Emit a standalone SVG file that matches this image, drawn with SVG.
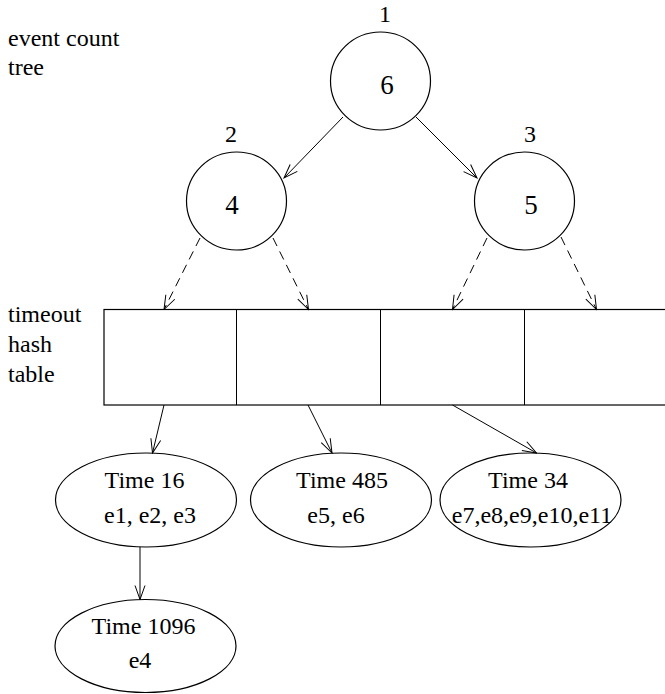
<svg xmlns="http://www.w3.org/2000/svg" width="665" height="694" viewBox="0 0 665 694">
  <style>
    .shape { fill: #fff; stroke: #000; stroke-width: 1.2; }
    .txt { font-family: "Liberation Serif", "Times New Roman", serif; font-size: 24px; fill: #000; }
    .big { font-family: "Liberation Serif", "Times New Roman", serif; font-size: 27px; fill: #000; }
    .edge { fill: none; stroke: #000; stroke-width: 1; }
    .dash { stroke-dasharray: 9 6; }
  </style>
  <defs>
    <marker id="arrow" markerWidth="16" markerHeight="12" refX="15" refY="6" orient="auto" markerUnits="userSpaceOnUse">
      <path d="M1,1 L15,6 L1,11" fill="none" stroke="#000" stroke-width="1"/>
    </marker>
  </defs>

  <!-- side labels -->
  <g id="labels">
    <text class="txt" x="8" y="46">event count</text>
    <text class="txt" x="8" y="75">tree</text>
    <text class="txt" x="8" y="322">timeout</text>
    <text class="txt" x="8" y="352">hash</text>
    <text class="txt" x="8" y="382">table</text>
  </g>

  <!-- event count tree -->
  <g id="tree1">
    <text class="txt" x="385" y="22" text-anchor="middle">1</text>
    <ellipse class="shape" cx="380.5" cy="81" rx="50" ry="49"/>
    <text class="big" x="387" y="94" text-anchor="middle">6</text>
  </g>
  <g id="tree2">
    <text class="txt" x="231" y="142" text-anchor="middle">2</text>
    <ellipse class="shape" cx="236.5" cy="201" rx="50" ry="49"/>
    <text class="big" x="232" y="214" text-anchor="middle">4</text>
  </g>
  <g id="tree3">
    <text class="txt" x="530" y="142" text-anchor="middle">3</text>
    <ellipse class="shape" cx="524.5" cy="201" rx="50" ry="49"/>
    <text class="big" x="531" y="214" text-anchor="middle">5</text>
  </g>

  <!-- timeout hash table -->
  <g id="hashtable">
    <rect class="shape" x="104" y="309.5" width="580" height="95.5"/>
    <line class="edge" x1="236.5" y1="309.5" x2="236.5" y2="405"/>
    <line class="edge" x1="380.5" y1="309.5" x2="380.5" y2="405"/>
    <line class="edge" x1="524.5" y1="309.5" x2="524.5" y2="405"/>
  </g>

  <!-- timeout buckets -->
  <g id="t16">
    <ellipse class="shape" cx="146" cy="500" rx="90.5" ry="47"/>
    <text class="txt" x="144.5" y="488" text-anchor="middle">Time 16</text>
    <text class="txt" x="150" y="523" text-anchor="middle">e1, e2, e3</text>
  </g>
  <g id="t485">
    <ellipse class="shape" cx="341" cy="500" rx="90.5" ry="47"/>
    <text class="txt" x="342" y="488" text-anchor="middle">Time 485</text>
    <text class="txt" x="336" y="523" text-anchor="middle">e5, e6</text>
  </g>
  <g id="t34">
    <ellipse class="shape" cx="530.5" cy="500" rx="90.5" ry="47"/>
    <text class="txt" x="528" y="488" text-anchor="middle">Time 34</text>
    <text class="txt" x="532" y="523" text-anchor="middle">e7,e8,e9,e10,e11</text>
  </g>
  <g id="t1096">
    <ellipse class="shape" cx="145.5" cy="646" rx="90.5" ry="46.5"/>
    <text class="txt" x="143.5" y="634" text-anchor="middle">Time 1096</text>
    <text class="txt" x="140" y="668" text-anchor="middle">e4</text>
  </g>

  <!-- connectors -->
  <g id="connectors">
    <line class="edge" x1="343" y1="117" x2="284" y2="178" marker-end="url(#arrow)"/>
    <line class="edge" x1="416" y1="117" x2="477" y2="178" marker-end="url(#arrow)"/>
    <line class="edge dash" x1="200" y1="238" x2="164" y2="309.5" marker-end="url(#arrow)"/>
    <line class="edge dash" x1="273" y1="238" x2="308.5" y2="309.5" marker-end="url(#arrow)"/>
    <line class="edge dash" x1="487" y1="238" x2="452.5" y2="309.5" marker-end="url(#arrow)"/>
    <line class="edge dash" x1="561" y1="237" x2="596.5" y2="309.5" marker-end="url(#arrow)"/>
    <line class="edge" x1="164" y1="405" x2="152.5" y2="453" marker-end="url(#arrow)"/>
    <line class="edge" x1="308" y1="405" x2="332" y2="453" marker-end="url(#arrow)"/>
    <line class="edge" x1="452.5" y1="405" x2="536.5" y2="453" marker-end="url(#arrow)"/>
    <line class="edge" x1="140" y1="547" x2="140" y2="599.5" marker-end="url(#arrow)"/>
  </g>
</svg>
